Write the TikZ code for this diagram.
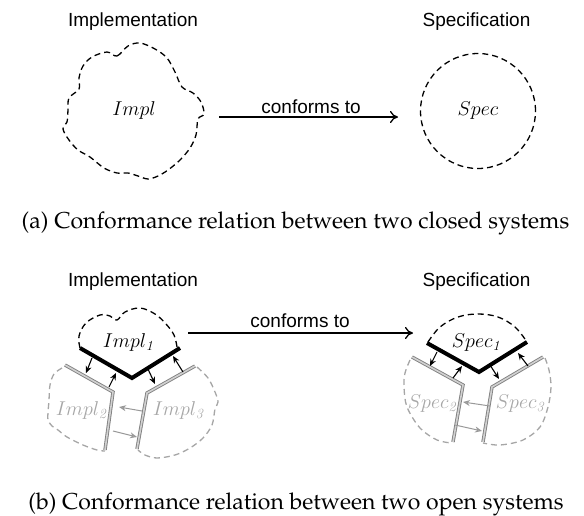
\RequirePackage{fix-cm}
\documentclass[tikz,border=0pt]{standalone}
\usepackage{fontspec}
\newfontfamily\helv{Liberation Sans}
\newcommand\palafont{\fontencoding{OT1}\fontfamily{ppl}\selectfont}
\usetikzlibrary{arrows.meta}

\begin{document}
\begin{tikzpicture}[x=1pt,y=-1pt,
  lbl/.style={font=\helv\fontsize{19}{22}\selectfont, inner sep=0pt},
  mth/.style={font=\fontsize{20}{24}\selectfont, inner sep=0pt},
  gmth/.style={mth, text=black!35},
  captxt/.style={font=\palafont\fontsize{23}{27}\selectfont, inner sep=0pt},
  bnd/.style={dash pattern=on 6pt off 4pt, line width=1.3pt},
  gbnd/.style={bnd, draw=black!35},
  iface/.style={line width=4pt, line join=miter},
  port/.style={draw=black!50, double=black!18, line width=0.9pt, double distance=1.6pt, line join=miter},
  conf/.style={-{To[length=8pt,width=12pt]}, line width=1.3pt},
  sarr/.style={-{Stealth[length=7pt,width=6pt]}, line width=1.1pt},
  garr/.style={-{Stealth[length=7pt,width=6pt,open]}, line width=1pt, draw=black!40}
]
\useasboundingbox (0,0) rectangle (584,515);

% ---------- (a) closed systems ----------
\node[lbl, anchor=base] (implA) at (133,26) {Implementation};
\node[lbl, anchor=base] (specA) at (476.5,26) {Specification};

\draw[bnd] plot[smooth cycle, tension=0.55] coordinates {
  (107,52) (117,56) (128,46) (140,43) (155,49) (167,58) (175,72) (182,87)
  (193,93) (201,102) (204,114) (198,119) (196,135) (190,148) (180,160)
  (168,170) (158,176) (148,179) (138,176) (128,173) (117,173) (104,168)
  (90,157) (78,150) (69,140) (63,129) (67,122) (68,110) (69,98) (79,89)
  (79,78) (83,66) (92,57)};
\node[mth] (impl) at (134,110) {$Impl$};

\node[circle, draw, bnd, minimum size=115pt, mth] (spec) at (478,111) {$Spec$};

\coordinate (confA1) at (219,117);
\coordinate (confA2) at (398,117);
\draw[conf] (confA1) -- (confA2);
\node[lbl, anchor=base] (confAl) at (311,113) {conforms to};

\node[captxt, anchor=base] (capA) at (295.5,228) {(a) Conformance relation between two closed systems};

% ---------- (b) open systems ----------
\node[lbl, anchor=base] (implB) at (133,286) {Implementation};
\node[lbl, anchor=base] (specB) at (476.5,286) {Specification};

\coordinate (confB1) at (188,333);
\coordinate (confB2) at (413,333);
\draw[conf] (confB1) -- (confB2);
\node[lbl, anchor=base] (confBl) at (300,327) {conforms to};

% implementation side: environment parts in grey
\draw[gbnd] plot[smooth, tension=0.55] coordinates {
  (62,368) (54,374) (50,385) (49,400) (48,413) (48,420) (52,426) (58,430)
  (67,437) (83,445) (97,450) (105,451)};
\draw[gbnd] plot[smooth, tension=0.55] coordinates {
  (197,367) (208,378) (215,392) (218,402) (215,409) (212,425) (203,438)
  (190,448) (175,455) (157,458) (145,455) (138,450)};
\coordinate (i2a) at (65,365);
\coordinate (i2b) at (113,392);
\coordinate (i2c) at (105,450);
\coordinate (i3a) at (195,366);
\coordinate (i3b) at (147,393);
\coordinate (i3c) at (137,449);
\draw[port] (i2a) -- (i2b) -- (i2c);
\draw[port] (i3a) -- (i3b) -- (i3c);
\node[gmth, anchor=base] (impl2) at (81,415) {$Impl_{\mathit{2}}$};
\node[gmth, anchor=base] (impl3) at (178,415) {$Impl_{\mathit{3}}$};
\coordinate (gi1s) at (142,411);
\coordinate (gi1e) at (119,407);
\coordinate (gi2s) at (113,431);
\coordinate (gi2e) at (137,437);
\draw[garr] (gi1s) -- (gi1e);
\draw[garr] (gi2s) -- (gi2e);

% implementation side: component under test
\draw[bnd] plot[smooth, tension=0.6] coordinates {
  (80,348) (79,336) (86,323) (100,315) (110,316) (117,320) (125,312)
  (140,308) (155,314) (166,324) (174,335) (177,347)};
\coordinate (i1a) at (80,348);
\coordinate (i1b) at (132,378);
\coordinate (i1c) at (180,348);
\draw[iface] (i1a) -- (i1b) -- (i1c);
\node[mth, anchor=base] (impl1) at (128,347) {$Impl_{\mathit{1}}$};
\coordinate (ia1s) at (92,358);
\coordinate (ia1e) at (86,373);
\coordinate (ia2s) at (109,387);
\coordinate (ia2e) at (116,373);
\coordinate (ia3s) at (147,367);
\coordinate (ia3e) at (155,384);
\coordinate (ia4s) at (183,372);
\coordinate (ia4e) at (173,356);
\draw[sarr] (ia1s) -- (ia1e);
\draw[sarr] (ia2s) -- (ia2e);
\draw[sarr] (ia3s) -- (ia3e);
\draw[sarr] (ia4s) -- (ia4e);

% specification side: environment parts in grey
\draw[gbnd] plot[smooth, tension=0.55] coordinates {
  (410,360) (405,373) (404,387) (407,407) (420,428) (437,440) (452,443)};
\draw[gbnd] plot[smooth, tension=0.55] coordinates {
  (545,358) (549,370) (551,387) (548,407) (540,427) (523,440) (500,445) (483,443)};
\coordinate (s2a) at (412,357);
\coordinate (s2b) at (463,385);
\coordinate (s2c) at (453,442);
\coordinate (s3a) at (543,357);
\coordinate (s3b) at (492,387);
\coordinate (s3c) at (483,442);
\draw[port] (s2a) -- (s2b) -- (s2c);
\draw[port] (s3a) -- (s3b) -- (s3c);
\node[gmth, anchor=base] (spec2) at (432,408) {$Spec_{\mathit{2}}$};
\node[gmth, anchor=base] (spec3) at (520,408) {$Spec_{\mathit{3}}$};
\coordinate (gs1s) at (490,406);
\coordinate (gs1e) at (463,402);
\coordinate (gs2s) at (455,425);
\coordinate (gs2e) at (482,431);
\draw[garr] (gs1s) -- (gs1e);
\draw[garr] (gs2s) -- (gs2e);

% specification side: specified component
\draw[bnd] plot[smooth, tension=0.6] coordinates {
  (428,342) (440,327) (458,317) (478,314) (498,317) (515,327) (527,342)};
\coordinate (s1a) at (427,343);
\coordinate (s1b) at (479,372);
\coordinate (s1c) at (527,342);
\draw[iface] (s1a) -- (s1b) -- (s1c);
\node[mth, anchor=base] (spec1) at (476,347) {$Spec_{\mathit{1}}$};
\coordinate (sa1s) at (437,352);
\coordinate (sa1e) at (430,366);
\coordinate (sa2s) at (453,378);
\coordinate (sa2e) at (462,366);
\coordinate (sa3s) at (490,365);
\coordinate (sa3e) at (499,379);
\coordinate (sa4s) at (528,366);
\coordinate (sa4e) at (518,353);
\draw[sarr] (sa1s) -- (sa1e);
\draw[sarr] (sa2s) -- (sa2e);
\draw[sarr] (sa3s) -- (sa3e);
\draw[sarr] (sa4s) -- (sa4e);

\node[captxt, anchor=base] (capB) at (296,509) {(b) Conformance relation between two open systems};
\end{tikzpicture}
\end{document}
